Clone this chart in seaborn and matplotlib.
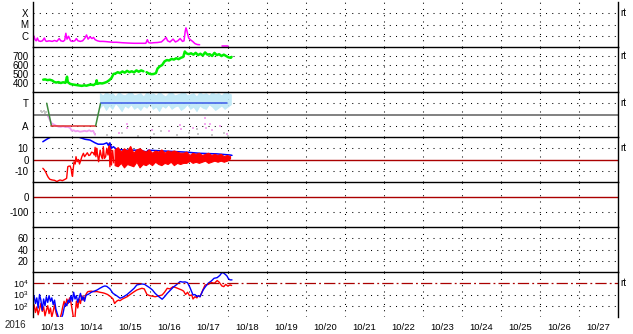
import numpy as np
import pandas as pd
import matplotlib
matplotlib.use('Agg')
import matplotlib.pyplot as plt
import matplotlib.transforms as mtransforms
import seaborn as sns

sns.set_theme(style='white')
plt.rcParams['font.family'] = ['Liberation Sans', 'DejaVu Sans']
plt.rcParams['mathtext.default'] = 'regular'

# ---------------- data (time in days after 2016-10-13 00:00) ----------------
day_labels = ['10/13', '10/14', '10/15', '10/16', '10/17', '10/18', '10/19', '10/20',
              '10/21', '10/22', '10/23', '10/24', '10/25', '10/26', '10/27']
year_label = '2016'

# Panel 1: X-ray flux (log10 W/m2)
xray_t = [0.00, 0.03, 0.06, 0.09, 0.12, 0.15, 0.2, 0.25, 0.3, 0.33, 0.36, 0.42, 0.5, 0.56, 0.62,
          0.68, 0.72, 0.78, 0.82, 0.85, 0.88, 0.92, 0.97, 1.02, 1.08, 1.12, 1.16, 1.22, 1.28, 1.34,
          1.38, 1.42, 1.47, 1.52, 1.56, 1.6, 1.66, 1.72, 1.8, 1.88, 1.96, 2.05, 2.15, 2.3, 2.45,
          2.6, 2.75, 2.9, 2.94, 2.97, 3.02, 3.1, 3.2, 3.3, 3.38, 3.42, 3.46, 3.52, 3.6, 3.66, 3.72,
          3.78, 3.84, 3.88, 3.91, 3.93, 3.95, 3.97, 4.0, 4.04, 4.1, 4.16, 4.22, 4.28, 4.3, 4.85, 5.0]
xray_log = [-6.3, -6.02, -6.35, -6.45, -6.2, -6.45, -6.5, -6.45, -6.2, -6.45, -6.5, -6.45, -6.5,
            -6.42, -6.5, -6.25, -6.45, -6.5, -6.4, -5.78, -6.3, -6.05, -6.45, -6.5, -6.45, -6.25,
            -6.45, -6.5, -6.45, -6.2, -5.93, -6.3, -6.1, -6.25, -6.15, -6.35, -6.45, -6.5, -6.5,
            -6.52, -6.55, -6.58, -6.58, -6.62, -6.65, -6.67, -6.67, -6.67, -6.35, -6.6, -6.65,
            -6.62, -6.6, -6.55, -6.3, -6.15, -6.45, -6.55, -6.3, -6.55, -6.45, -6.25, -6.5, -6.45,
            -5.6, -5.3, -5.5, -5.8, -6.2, -6.35, -6.5, -6.7, -6.78, -6.8, np.nan, -6.9, -6.9]

# Panel 2: solar wind speed (km/s)
speed_t = [0.27, 0.32, 0.38, 0.44, 0.5, 0.55, 0.6, 0.66, 0.72, 0.78, 0.84, 0.88, 0.9, 0.96, 1.02,
           1.08, 1.14, 1.2, 1.26, 1.32, 1.38, 1.44, 1.5, 1.56, 1.62, 1.64, 1.66, 1.72, 1.78, 1.84,
           1.9, 1.96, 2.02, 2.07, 2.12, 2.18, 2.24, 2.3, 2.36, 2.42, 2.48, 2.54, 2.6, 2.66, 2.72,
           2.78, 2.84, 2.88, 2.92, 2.98, 3.04, 3.1, 3.16, 3.2, 3.26, 3.32, 3.38, 3.44, 3.5, 3.56,
           3.62, 3.68, 3.74, 3.8, 3.86, 3.9, 3.94, 4.0, 4.06, 4.12, 4.18, 4.24, 4.3, 4.36, 4.42,
           4.48, 4.54, 4.6, 4.66, 4.72, 4.78, 4.84, 4.9, 4.96, 5.02, 5.08, 5.1]
speed_v = [437, 440, 432, 436, 428, 412, 405, 410, 400, 408, 402, 470, 410, 390, 384, 380, 376,
           372, 368, 374, 370, 378, 382, 376, 395, 430, 390, 398, 395, 402, 412, 430, 455, 500,
           505, 520, 510, 528, 515, 535, 520, 530, 518, 540, 525, 540, 530, np.nan, 520, 505, 498,
           500, 510, 560, 585, 600, 640, 655, 650, 668, 660, 675, 665, 680, 690, 750, 730, 720,
           730, 715, 735, 710, 725, 705, 740, 715, 720, 700, 735, 710, 720, 700, 715, 700, 685,
           680, 690]

# Panel 3: polarity (T = +1, A = -1)
pol_t = [0.36, 0.48, 1.615, 1.74, 4.97]
pol_v = [1, -1, -1, 1, 1]
pol_colors = ['#3c8a3c', '#e03030', '#3c8a3c', '#3a5ae8']
toward_t0, toward_dt = 1.72, 0.08
toward_hi = [1.9, 1.7, 2.0, 1.8, 1.9, 1.6, 2.0, 1.8, 1.7, 1.9, 2.0, 1.7, 1.8, 1.9, 1.6, 2.0, 1.8,
             1.9, 1.7, 2.0, 1.8, 1.6, 1.9, 2.0, 1.7, 1.8, 1.9, 2.0, 1.7, 1.8, 1.9, 1.6, 2.0, 1.8,
             1.9, 1.7, 2.0, 1.8, 1.9, 1.7, 2.0, 1.9, 1.8]
toward_lo = [0.6, 0.9, 0.4, 0.8, 0.5, 1.0, 0.7, 0.3, 0.8, 0.6, 0.9, 0.5, 0.7, 0.4, 0.8, 0.6, 1.0,
             0.5, 0.7, 0.3, 0.8, 0.6, 0.9, 0.5, 0.7, 0.8, 0.4, 0.6, 0.9, 0.5, 0.7, 0.3, 0.8, 0.6,
             0.5, 0.9, 0.7, 0.4, 0.6, 0.8, 0.5, 0.7, 0.9]
away_t = [0.40, 0.44, 0.49, 0.55, 0.6, 0.66, 0.72, 0.78, 0.84, 0.9, 0.96, 1.0, 1.05, 1.1, 1.15,
          1.21, 1.27, 1.33, 1.39, 1.45, 1.5, 1.55, 1.6]
away_v = [-0.2, -0.5, -0.8, -0.9, -1.0, -1.08, -1.1, -1.05, -1.12, -1.1, -1.2, -1.44, -1.4, -1.5,
          -1.45, -1.53, -1.5, -1.45, -1.5, -1.4, -1.5, -1.45, -1.8]
away_pts_t = [2.41, 2.43, 3.05, 3.78, 3.8, 4.42, 4.43, 4.45, 4.55, 4.59, 4.97, 2.2, 3.5, 4.1, 4.8]
away_pts_v = [-0.8, -1.2, -1.4, -0.9, -1.3, -0.3, -0.8, -1.2, -0.8, -1.4, -1.7, -1.6, -1.5, -1.2, -1.0]
grey_pts_t = [0.22, 0.25, 0.28, 0.31, 0.34, 0.38, 0.42, 1.6, 1.9, 2.3, 2.7, 3.1, 3.3, 3.7, 4.0,
              4.2, 4.25, 4.6, 4.9, 5.0]
grey_pts_v = [0.35, 0.2, 0.3, 0.1, 0.25, -0.1, -0.2, -1.7, -1.8, -1.6, -1.9, -1.7, -1.5, -1.8,
              -1.6, -1.3, -1.7, -1.8, -1.6, -1.9]

# Panel 4: Bt (blue) and Bz (red), nT
bt_t = [0.26, 0.36, 0.44, 0.5, 0.8, 1.15, 1.21, 1.34, 1.47, 1.6, 1.68, 1.81, 1.9, 1.94, 1.98,
        2.02, 2.07, 2.15, 2.41, 2.75, 2.84, 2.92, 2.96, 3.44, 3.95, 4.29, 4.72, 5.06, 5.11]
bt_v = [15.8, 18, 19.5, 23, 24, 21, 19.5, 18, 17.3, 14.8, 13.6, 13.6, 14.8, 12.6, 14.8, 10, 11.4,
        9, 8.3, 8.3, 7.4, 6.7, 8.3, 7.4, 6.5, 5.5, 5, 4, 3.7]
bz_early_t = [0.26, 0.3, 0.34, 0.37, 0.4, 0.44, 0.5, 0.56, 0.62, 0.66, 0.7, 0.76, 0.83, 0.87, 0.9,
              0.92, 0.96, 0.99, 1.0, 1.02, 1.04, 1.06, 1.09, 1.11, 1.14, 1.17, 1.2, 1.23, 1.26,
              1.3, 1.33, 1.36, 1.4, 1.44, 1.47, 1.51, 1.55, 1.58, 1.6, 1.62, 1.64, 1.66, 1.69,
              1.73, 1.76, 1.79, 1.81, 1.84, 1.87, 1.9, 1.93, 1.96, 1.98, 2.0, 2.02, 2.05, 2.08]
bz_early_v = [-7.8, -9.3, -11.7, -14, -15.9, -17.6, -18.2, -18.5, -19.6, -18.8, -18.2, -18.8,
              -17.6, -16.7, -6.4, -6.0, -5.8, -9, -12.3, -15, -8, -2, -4, 2.5, -2, 0, -4, -1,
              2.5, 5.5, 2.5, 4, 6, 3.5, 4, 6.5, 6, 4, 10.8, 2.5, 10, 5, -2, 8.3, 3, 0.7, 11.4,
              1, 2.5, 10, 4, 14.4, -6.4, 12.9, -4.9, 8, -3]
bz_late_t0, bz_late_dt = 2.10, 0.08
bz_hi = [9, 11, 7, 10, 8, 12, 6, 9, 10, 8, 7, 9, 6, 8, 7, 9, 6, 8, 7, 8, 7, 6, 6, 7, 4, 6, 5, 6,
         4, 5, 6, 4, 5, 4, 5, 3, 4, 3]
bz_lo = [-5, -6, -3, -7, -4, -5, -6, -2, -7, -4, -5, -3, -5, -2, -4, -5, -3, -4, -2, -5, -3, -4,
         -3, -3, -1, -3, -2, -3, -2, -1, -3, -2, -1, -2, -1, -2, -1, 1]

# Panel 7: particle flux (log10), early noisy part + later part
flux_early_dt = 0.035
flux_blue_early = [2.6, 2.9, 2.2, 2.7, 1.8, 3.0, 2.5, 1.6, 2.6, 2.0, 2.8, 2.3, 2.9, 2.4, 2.7, 2.1,
                   2.5, 1.7, 1.3, 0.9, 0.9, 0.9, 1.2, 1.8, 2.2, 2.0, 2.5, 2.3, 2.9, 2.4, 3.2, 2.6,
                   2.9, 2.3, 2.7, 3.1, 2.5, 2.8, 2.4, 2.9, 3.0]
flux_red_early = [1.8, 2.1, 1.4, 1.9, 1.2, 1.7, 2.2, 1.5, 1.9, 1.1, 1.6, 2.0, 1.3, 1.8, 1.0, 1.5,
                  2.1, 1.4, 1.0, 0.8, 0.9, 1.3, 1.9, 2.4, 2.0, 2.6, 2.2, 2.7, 2.3, 1.6, 0.8, 1.0,
                  2.4, 1.8, 2.6, 2.2, 2.9, 2.5, 2.7, 3.0, 3.2]
flux_blue_t = [1.42, 1.5, 1.58, 1.65, 1.72, 1.8, 1.85, 1.9, 1.98, 2.06, 2.15, 2.24, 2.33, 2.42,
               2.52, 2.6, 2.67, 2.74, 2.8, 2.87, 2.93, 3.0, 3.07, 3.14, 3.22, 3.32, 3.38, 3.45,
               3.52, 3.6, 3.68, 3.78, 3.85, 3.91, 3.97, 4.03, 4.07, 4.11, 4.16, 4.21, 4.25, 4.29,
               4.33, 4.37, 4.43, 4.5, 4.58, 4.65, 4.73, 4.8, 4.85, 4.9, 4.95, 4.98, 5.02, 5.06, 5.11]
flux_blue_log = [3.0, 3.2, 3.3, 3.4, 3.55, 3.7, 3.76, 3.72, 3.5, 3.1, 2.9, 2.67, 2.8, 3.0, 3.3,
                 3.55, 3.85, 3.9, 3.94, 3.9, 3.76, 3.6, 3.4, 3.1, 2.85, 2.58, 2.8, 3.1, 3.35, 3.64,
                 3.85, 4.15, 4.1, 4.12, 4.05, 3.64, 3.3, 2.96, 3.0, 2.8, 2.9, 2.8, 3.1, 3.4, 3.7,
                 4.0, 4.2, 4.44, 4.5, 4.7, 4.95, 4.9, 4.75, 4.65, 4.4, 4.3, 4.3]
flux_red_t = [1.42, 1.5, 1.58, 1.65, 1.72, 1.8, 1.85, 1.92, 2.0, 2.06, 2.1, 2.15, 2.2, 2.24, 2.3,
              2.36, 2.42, 2.5, 2.58, 2.67, 2.75, 2.8, 2.86, 2.93, 3.0, 3.07, 3.14, 3.2, 3.26, 3.32,
              3.38, 3.45, 3.52, 3.6, 3.68, 3.75, 3.82, 3.87, 3.92, 3.97, 4.02, 4.08, 4.11, 4.16,
              4.21, 4.25, 4.29, 4.35, 4.42, 4.5, 4.58, 4.66, 4.73, 4.78, 4.85, 4.9, 4.95, 5.0,
              5.06, 5.1]
flux_red_log = [3.26, 3.3, 3.25, 3.26, 3.2, 3.15, 3.1, 3.0, 2.8, 2.6, 2.2, 2.4, 2.5, 2.45, 2.6,
                2.7, 2.8, 3.0, 3.2, 3.4, 3.5, 3.55, 3.5, 3.0, 2.9, 2.85, 2.8, 2.85, 2.9, 2.96,
                3.2, 3.55, 3.5, 3.7, 3.6, 3.5, 3.4, 3.3, 3.0, 3.2, 2.9, 2.96, 2.6, 2.8, 2.7, 2.9,
                2.8, 3.3, 3.85, 3.9, 4.06, 4.0, 4.24, 4.1, 3.76, 3.7, 3.9, 3.75, 3.85, 3.8]

# ---------------- helpers ----------------
def draw(ax, t, v, color, lw=1.0):
    t = np.asarray(t, float)
    v = np.asarray(v, float)
    seg = np.cumsum(np.isnan(v))
    ok = ~np.isnan(v)
    df = pd.DataFrame({'t': t[ok], 'v': v[ok], 'seg': seg[ok]})
    sns.lineplot(data=df, x='t', y='v', units='seg', estimator=None, sort=False,
                 color=color, lw=lw, ax=ax, legend=False)

DOT = (0, (1, 5))

W, H = 633, 334
fig = plt.figure(figsize=(W / 100, H / 100), dpi=100)
left_px, right_px = 32.7, 617.7
axes = []
for i in range(7):
    top = 2 + 45 * i
    ax = fig.add_axes([left_px / W, 1 - (top + 45) / H, (right_px - left_px) / W, 45 / H])
    ax.set_xlim(0, 15)
    ax.set_facecolor('white')
    for s in ['left', 'right', 'top']:
        ax.spines[s].set_visible(True)
        ax.spines[s].set_color('black')
        ax.spines[s].set_linewidth(1.0)
    ax.spines['bottom'].set_visible(False)
    if i == 0:
        ax.spines['top'].set_visible(False)
    for d in range(1, 15):
        ax.axvline(d, color='black', lw=0.75, ls=DOT, zorder=1)
    ax.tick_params(axis='both', length=0, labelsize=7, pad=3, colors='black')
    axes.append(ax)

def hgrid(ax, vals):
    for v in vals:
        ax.axhline(v, color='black', lw=0.75, ls=DOT, zorder=1)

def rt(ax, y):
    tr = mtransforms.blended_transform_factory(ax.transAxes, ax.transData)
    ax.text(1.005, y, 'rt', transform=tr, fontsize=7, va='center', ha='left', color='black')

# Panel 1: X-ray
ax = axes[0]
draw(ax, xray_t, 10 ** np.asarray(xray_log, float), '#ff00ff', 1.1)
ax.set_yscale('log')
ax.set_ylim(1e-7, 1e-3)
hgrid(ax, [1e-4, 1e-5, 1e-6])
ax.set_yticks([1e-4, 1e-5, 1e-6])
ax.set_yticklabels(['X', 'M', 'C'])
ax.minorticks_off()
rt(ax, 1e-4)

# Panel 2: speed
ax = axes[1]
draw(ax, speed_t, speed_v, '#00ee00', 1.8)
ax.set_ylim(300, 800)
hgrid(ax, [400, 500, 600, 700])
ax.set_yticks([400, 500, 600, 700])
ax.set_yticklabels(['400', '500', '600', '700'])
rt(ax, 700)

# Panel 3: polarity
ax = axes[2]
ax.axhline(0, color='#808080', lw=1.4, zorder=2)
hgrid(ax, [1, -1])
tt = toward_t0 + toward_dt * np.arange(len(toward_hi))
ax.fill_between(tt, toward_lo, toward_hi, color='#bde8f7', lw=0.6, alpha=0.9, zorder=2)
draw(ax, away_t, away_v, '#f09cf0', 1.3)
sns.scatterplot(x=away_pts_t, y=away_pts_v, ax=ax, color='#f4a8f0', s=3, marker='s',
                linewidth=0, legend=False)
sns.scatterplot(x=grey_pts_t, y=grey_pts_v, ax=ax, color='#c8c8c8', s=3, marker='s',
                linewidth=0, legend=False)
for k in range(len(pol_t) - 1):
    draw(ax, pol_t[k:k + 2], pol_v[k:k + 2], pol_colors[k], 1.1)
ax.set_ylim(-2, 2)
ax.set_yticks([1, -1])
ax.set_yticklabels(['T', 'A'])
rt(ax, 1)

# Panel 4: Bt / Bz
ax = axes[3]
ax.axhline(0, color='#aa0000', lw=1.0, zorder=2)
hgrid(ax, [10, -10])
draw(ax, bz_early_t, bz_early_v, '#ff0000', 1.0)
bzt = bz_late_t0 + bz_late_dt * np.arange(len(bz_hi))
ax.fill_between(bzt, bz_lo, bz_hi, color='#ff0000', lw=0.8, zorder=3)
draw(ax, bt_t, bt_v, '#0000ff', 1.1)
ax.set_ylim(-20, 20)
ax.set_yticks([10, 0, -10])
ax.set_yticklabels(['10', '0', '-10'])
rt(ax, 10)

# Panel 5
ax = axes[4]
ax.axhline(0, color='#aa0000', lw=1.0, zorder=2)
hgrid(ax, [-100])
ax.set_ylim(-200, 100)
ax.set_yticks([0, -100])
ax.set_yticklabels(['0', '-100'])

# Panel 6
ax = axes[5]
hgrid(ax, [20, 40, 60])
ax.set_ylim(0, 80)
ax.set_yticks([20, 40, 60])
ax.set_yticklabels(['20', '40', '60'])

# Panel 7: flux
ax = axes[6]
te = flux_early_dt * np.arange(len(flux_blue_early))
red_t = list(te) + list(flux_red_t)
red_l = list(flux_red_early) + list(flux_red_log)
blue_t = list(te) + list(flux_blue_t)
blue_l = list(flux_blue_early) + list(flux_blue_log)
draw(ax, red_t, 10 ** np.asarray(red_l), '#ff0000', 1.0)
draw(ax, blue_t, 10 ** np.asarray(blue_l), '#0000ff', 1.0)
ax.set_yscale('log')
ax.set_ylim(1e1, 1e5)
hgrid(ax, [1e2, 1e3])
ax.axhline(1e4, color='#aa0000', lw=0.9, ls=(0, (9, 2.5, 1.5, 2.5)), zorder=2)
ax.set_yticks([1e2, 1e3, 1e4])
ax.set_yticklabels(['10$^2$', '10$^3$', '10$^4$'], fontsize=6.5)
ax.minorticks_off()
ax.set_xticks([d + 0.5 for d in range(15)])
ax.set_xticklabels(day_labels, fontsize=6.8)
ax.tick_params(axis='x', pad=4)
rt(ax, 1e4)

for i, a in enumerate(axes):
    a.set_xlim(0, 15)
    a.set_xlabel('')
    a.set_ylabel('')
    if i < 6:
        a.set_xticks([])

fig.text(15 / W, 1 - 325 / H, year_label, ha='center', va='center', fontsize=7)

fig.savefig('out.png', dpi=100, facecolor='white')
